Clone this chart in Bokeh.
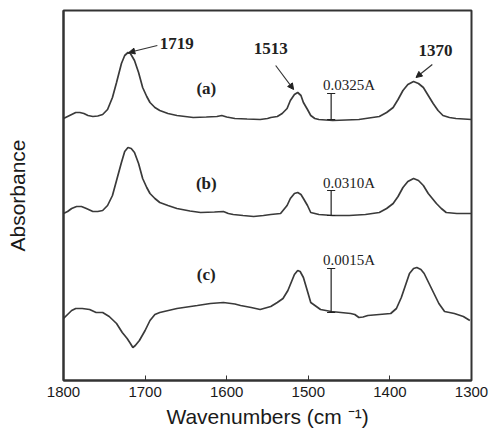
from bokeh.plotting import figure
from bokeh.models import Range1d, ColumnDataSource, Arrow, NormalHead, FixedTicker
from bokeh.core.properties import value
from bokeh.embed import file_html
from bokeh.resources import INLINE

# Wavenumber (cm-1) and relative absorbance (arbitrary stacked units)
wn_a = [1800, 1795, 1790, 1785, 1780, 1775, 1770, 1764, 1758, 1752, 1746, 1740, 1735, 1729, 1725, 1721, 1718,
        1713, 1708, 1703, 1698, 1694, 1688, 1682, 1672, 1661, 1641, 1625, 1612, 1606, 1600, 1590, 1575, 1559,
        1550, 1546, 1538, 1532, 1526, 1522, 1517, 1513, 1509, 1506, 1501, 1497, 1492, 1487, 1470, 1438, 1413,
        1404, 1396, 1390, 1384, 1378, 1371, 1365, 1359, 1353, 1347, 1341, 1335, 1327, 1319, 1300]
ab_a = [262, 264, 266, 268, 268, 267, 265, 264, 264.5, 266, 271, 283, 298, 317, 325, 328, 327,
        320, 308, 293, 284, 278, 273, 270, 267, 265, 263, 263.5, 264, 265, 263.5, 262, 261.5, 261,
        262, 263, 264, 267, 272, 280, 286, 288, 285, 278, 271, 265, 262, 261, 260, 261, 264,
        268, 273, 281, 290, 296, 299, 297, 293, 285, 277, 270, 265, 263, 262, 261]

wn_b = [1800, 1795, 1790, 1784, 1778, 1772, 1764, 1758, 1752, 1746, 1740, 1735, 1729, 1725, 1721, 1717, 1713,
        1708, 1703, 1698, 1694, 1688, 1682, 1672, 1661, 1645, 1632, 1615, 1604, 1598, 1592, 1580, 1567, 1555,
        1546, 1534, 1531, 1526, 1522, 1517, 1513, 1509, 1506, 1501, 1497, 1487, 1470, 1450, 1430, 1413, 1404,
        1396, 1390, 1384, 1378, 1371, 1365, 1359, 1353, 1343, 1337, 1331, 1318, 1300]
ab_b = [167, 169, 172, 174, 174, 172, 169, 169, 170, 175, 185, 200, 218, 229, 233, 232, 228,
        217, 202, 193, 187, 182, 178, 175, 172, 169.5, 168, 168.5, 169, 167, 166, 165, 164, 165,
        166, 167, 170, 175, 182, 187, 188, 186, 182, 175, 168, 166, 165, 165, 166, 168, 172,
        177, 184, 193, 199, 202, 200, 195, 187, 177, 172, 168, 167, 167]

wn_c = [1800, 1795, 1790, 1785, 1777, 1768, 1760, 1752, 1744, 1735, 1728, 1722, 1718, 1715, 1712, 1707, 1700,
        1694, 1688, 1682, 1661, 1636, 1620, 1604, 1590, 1583, 1570, 1559, 1546, 1538, 1531, 1525, 1520, 1517,
        1513, 1510, 1506, 1502, 1497, 1485, 1472, 1448, 1443, 1438, 1433, 1427, 1399, 1392, 1386, 1381, 1376,
        1371, 1367, 1362, 1358, 1352, 1346, 1340, 1333, 1321, 1310, 1302]
ab_c = [62, 66, 70, 72, 72, 71, 68, 68, 64, 57, 48, 42, 37, 33, 35, 40, 50,
        60, 66, 68, 72, 75, 77, 78, 76.5, 75, 73, 71, 74, 78, 82, 90, 100, 106,
        110, 109, 103, 92, 78, 71, 69, 67, 66, 63, 63.5, 65, 67, 72, 83, 95, 107,
        112, 113, 111, 107, 97, 87, 77, 69, 67, 64, 60]

# Scale bars (wavenumber, bottom, top) and their labels
bar_wn = [1472, 1472, 1472]
bar_lo = [261, 165, 68]
bar_hi = [287, 190, 112]
bar_text = ["0.0325A", "0.0310A", "0.0015A"]
bar_text_wn = [1482, 1482, 1482]
bar_text_y = [296, 198, 121]

# Trace labels
trace_text = ["(a)", "(b)", "(c)"]
trace_text_wn = [1625, 1625, 1625]
trace_text_y = [292, 197, 106]

# Peak labels with arrows
peak_text = ["1719", "1513", "1370"]
peak_text_wn = [1682, 1567, 1365]
peak_text_y = [337, 332, 330]
arrow_start_wn = [1685, 1540, 1348]
arrow_start_y = [335, 315, 316]
arrow_end_wn = [1720, 1518, 1368]
arrow_end_y = [328, 291, 303]

x_ticks = [1800, 1700, 1600, 1500, 1400, 1300]

LINE = "#3a3a3a"

p = figure(width=492, height=433, output_backend="svg", toolbar_location=None,
           x_range=Range1d(1800, 1300), y_range=Range1d(0, 370),
           min_border_left=63, min_border_right=21, min_border_top=10, min_border_bottom=53)
p.background_fill_color = "white"
p.border_fill_color = "white"
p.outline_line_color = "#333333"
p.outline_line_width = 2
p.xgrid.visible = False
p.ygrid.visible = False

for wn, ab in ((wn_a, ab_a), (wn_b, ab_b), (wn_c, ab_c)):
    p.line(wn, ab, line_color=LINE, line_width=1.7)

# scale bars
bars = ColumnDataSource(dict(x=bar_wn, lo=bar_lo, hi=bar_hi,
                             xl=[v + 5 for v in bar_wn], xr=[v - 5 for v in bar_wn]))
p.segment(x0="x", y0="lo", x1="x", y1="hi", source=bars, line_color="#222222", line_width=1.2)
p.segment(x0="xl", y0="hi", x1="xr", y1="hi", source=bars, line_color="#222222", line_width=1.2)
p.segment(x0="xl", y0="lo", x1="xr", y1="lo", source=bars, line_color="#222222", line_width=1.2)

p.text(x=bar_text_wn, y=bar_text_y, text=bar_text, text_font=value("Liberation Serif"),
       text_font_size="15px", text_color="#222222", text_align="left", text_baseline="middle")
p.text(x=trace_text_wn, y=trace_text_y, text=trace_text, text_font=value("Liberation Serif"),
       text_font_size="17px", text_font_style="bold", text_color="#222222",
       text_align="center", text_baseline="middle")
p.text(x=peak_text_wn, y=peak_text_y, text=peak_text, text_font=value("Liberation Serif"),
       text_font_size="17px", text_font_style="bold", text_color="#222222",
       text_align="left", text_baseline="middle")

for i in range(3):
    p.add_layout(Arrow(x_start=arrow_start_wn[i], y_start=arrow_start_y[i],
                       x_end=arrow_end_wn[i], y_end=arrow_end_y[i],
                       line_color="#333333", line_width=1.2,
                       end=NormalHead(size=6, fill_color="#222222", line_color="#222222")))

# x axis
p.xaxis.ticker = FixedTicker(ticks=x_ticks)
p.xaxis.minor_tick_line_color = None
p.xaxis.major_tick_in = 5
p.xaxis.major_tick_out = 0
p.xaxis.major_tick_line_color = "#333333"
p.xaxis.axis_line_color = "#333333"
p.xaxis.axis_line_width = 2
p.xaxis.major_label_text_font = "Liberation Sans"
p.xaxis.major_label_text_font_size = "15px"
p.xaxis.major_label_text_color = "#1a1a1a"
p.xaxis.major_label_standoff = 6
p.xaxis.axis_label = "Wavenumbers (cm \u207b\u00b9)"
p.xaxis.axis_label_text_font = "Liberation Sans"
p.xaxis.axis_label_text_font_size = "21px"
p.xaxis.axis_label_text_font_style = "normal"
p.xaxis.axis_label_text_color = "#1a1a1a"
p.xaxis.axis_label_standoff = 5

# y axis: label only
p.yaxis.ticker = FixedTicker(ticks=[])
p.yaxis.minor_tick_line_color = None
p.yaxis.major_tick_line_color = None
p.yaxis.axis_line_color = "#333333"
p.yaxis.axis_line_width = 2
p.yaxis.axis_label = "Absorbance"
p.yaxis.axis_label_text_font = "Liberation Sans"
p.yaxis.axis_label_text_font_size = "21px"
p.yaxis.axis_label_text_font_style = "normal"
p.yaxis.axis_label_text_color = "#1a1a1a"
p.yaxis.axis_label_standoff = 35

open("out.html", "w").write(file_html(p, INLINE))
